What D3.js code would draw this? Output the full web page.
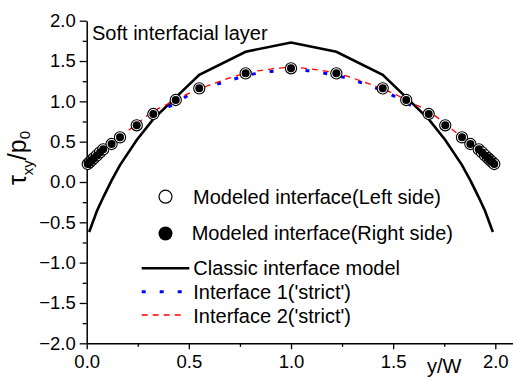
<!DOCTYPE html>
<html>
<head>
<meta charset="utf-8">
<script src="https://cdn.jsdelivr.net/npm/d3@7"></script>
<style>
  html, body { margin: 0; padding: 0; background: #fff; }
  svg { display: block; }
  text { font-family: "Liberation Sans", Arial, sans-serif; fill: #000; }
</style>
</head>
<body>
<svg id="chart" width="513" height="381"></svg>
<script>
// Sample positions y/W of the modeled interface points
const modelX = [0.005, 0.015, 0.025, 0.035, 0.05, 0.065, 0.081, 0.122, 0.163, 0.245, 0.326, 0.436, 0.551, 0.778, 1.0,
                1.222, 1.449, 1.564, 1.674, 1.755, 1.837, 1.878, 1.919, 1.935, 1.95, 1.965, 1.975, 1.985, 1.995];
// Modeled interface, left side (open circles)
const modelLeftY = [0.223, 0.247, 0.27, 0.295, 0.33, 0.367, 0.405, 0.471, 0.554, 0.703, 0.843, 1.017, 1.161, 1.347, 1.41,
                    1.347, 1.161, 1.017, 0.843, 0.703, 0.554, 0.471, 0.405, 0.367, 0.33, 0.295, 0.27, 0.247, 0.223];
// Modeled interface, right side (filled circles)
const modelRightY = [0.223, 0.247, 0.27, 0.295, 0.33, 0.367, 0.405, 0.471, 0.554, 0.703, 0.843, 1.017, 1.161, 1.347, 1.41,
                     1.347, 1.161, 1.017, 0.843, 0.703, 0.554, 0.471, 0.405, 0.367, 0.33, 0.295, 0.27, 0.247, 0.223];

// Classic interface model
const classicX = [0.012, 0.05, 0.081, 0.122, 0.163, 0.245, 0.326, 0.436, 0.551, 0.778, 1.0,
                  1.222, 1.449, 1.564, 1.674, 1.755, 1.837, 1.878, 1.919, 1.95, 1.988];
const classicY = [-0.62, -0.36, -0.19, 0.02, 0.21, 0.52, 0.78, 1.05, 1.33, 1.615, 1.73,
                  1.615, 1.33, 1.05, 0.78, 0.52, 0.21, 0.02, -0.19, -0.36, -0.62];

// Interface 1 ('strict')
const strict1X = [0.40, 0.45, 0.50, 0.55, 0.60, 0.70, 0.80, 0.90, 1.00, 1.10, 1.20, 1.30, 1.40, 1.45, 1.50, 1.55, 1.60];
const strict1Y = [0.93, 1.00, 1.08, 1.13, 1.18, 1.26, 1.33, 1.37, 1.39, 1.375, 1.33, 1.27, 1.18, 1.13, 1.07, 1.00, 0.93];

// Interface 2 ('strict')
const strict2X = [0.00, 0.05, 0.10, 0.15, 0.20, 0.25, 0.30, 0.35, 0.40, 0.50, 0.60, 0.70, 0.80, 0.90, 1.00,
                  1.10, 1.20, 1.30, 1.40, 1.50, 1.60, 1.65, 1.70, 1.75, 1.80, 1.85, 1.90, 1.95, 2.00];
const strict2Y = [0.20, 0.32, 0.43, 0.53, 0.63, 0.73, 0.83, 0.91, 0.97, 1.10, 1.20, 1.29, 1.36, 1.40, 1.42,
                  1.40, 1.36, 1.29, 1.20, 1.10, 0.97, 0.91, 0.83, 0.73, 0.63, 0.53, 0.43, 0.32, 0.20];

// Axis ticks
const xMajorTicks = [0, 0.5, 1.0, 1.5, 2.0];
const xMinorTicks = [0.25, 0.75, 1.25, 1.75];
const yMajorTicks = [-2.0, -1.5, -1.0, -0.5, 0.0, 0.5, 1.0, 1.5, 2.0];
const yMinorTicks = [-1.75, -1.25, -0.75, -0.25, 0.25, 0.75, 1.25, 1.75];

const legendLabels = ["Modeled interface(Left side)", "Modeled interface(Right side)",
                      "Classic interface model", "Interface 1('strict')", "Interface 2('strict')"];

const svg = d3.select("#chart");

const x = d3.scaleLinear().domain([0, 2.1]).range([86.7, 86.7 + 2.1 * 204.3]);
const y = d3.scaleLinear().domain([-2, 2]).range([343.3, 20.7]);

const fmt = d3.format(".1f");

// Minor ticks first
svg.append("g")
  .attr("transform", `translate(0,${y(-2)})`)
  .call(d3.axisBottom(x).tickValues(xMinorTicks).tickSize(3.5).tickSizeOuter(0).tickFormat(""))
  .call(g => g.select(".domain").remove())
  .call(g => g.selectAll("line").attr("stroke", "#000").attr("stroke-width", 1.3));

svg.append("g")
  .attr("transform", `translate(${x(0)},0)`)
  .call(d3.axisLeft(y).tickValues(yMinorTicks).tickSize(4).tickSizeOuter(0).tickFormat(""))
  .call(g => g.select(".domain").remove())
  .call(g => g.selectAll("line").attr("stroke", "#000").attr("stroke-width", 1.3));

// Major axes
const xAxis = svg.append("g")
  .attr("transform", `translate(0,${y(-2)})`)
  .call(d3.axisBottom(x).tickValues(xMajorTicks).tickSize(6).tickSizeOuter(0).tickPadding(6).tickFormat(fmt));
xAxis.select(".domain").attr("stroke", "#000").attr("stroke-width", 1.5);
xAxis.selectAll("line").attr("stroke", "#000").attr("stroke-width", 1.3);
xAxis.selectAll("text").attr("font-size", 18.5).attr("font-family", '"Liberation Sans", Arial, sans-serif').attr("fill", "#000");

const yAxis = svg.append("g")
  .attr("transform", `translate(${x(0)},0)`)
  .call(d3.axisLeft(y).tickValues(yMajorTicks).tickSize(7).tickSizeOuter(0).tickPadding(4).tickFormat(fmt));
yAxis.select(".domain").attr("stroke", "#000").attr("stroke-width", 1.5);
yAxis.selectAll("line").attr("stroke", "#000").attr("stroke-width", 1.3);
yAxis.selectAll("text").attr("font-size", 18.5).attr("font-family", '"Liberation Sans", Arial, sans-serif').attr("fill", "#000");

// Axis titles
svg.append("text")
  .attr("x", 427).attr("y", 373)
  .attr("font-size", 20)
  .text("y/W");

const yTitle = svg.append("text")
  .attr("transform", "translate(26,158) rotate(-90)")
  .attr("text-anchor", "middle")
  .attr("font-size", 25);
yTitle.append("tspan").text("τ");
yTitle.append("tspan").attr("font-size", 15).attr("dy", 7).text("xy");
yTitle.append("tspan").attr("dy", -7).text("/p");
yTitle.append("tspan").attr("font-size", 15).attr("dy", 4).text("0");

svg.append("text")
  .attr("x", 92).attr("y", 40)
  .attr("font-size", 20)
  .text("Soft interfacial layer");

// Curves
const line = d3.line().x(d => x(d[0])).y(d => y(d[1]));
const smooth = d3.line().x(d => x(d[0])).y(d => y(d[1])).curve(d3.curveMonotoneX);

svg.append("path")
  .datum(d3.zip(classicX, classicY))
  .attr("d", line)
  .attr("fill", "none").attr("stroke", "#000").attr("stroke-width", 2.6)
  .attr("stroke-linejoin", "miter");

svg.append("path")
  .datum(d3.zip(strict1X, strict1Y))
  .attr("d", smooth)
  .attr("fill", "none").attr("stroke", "#0000ff").attr("stroke-width", 3)
  .attr("stroke-dasharray", "4 14");

svg.append("path")
  .datum(d3.zip(strict2X, strict2Y))
  .attr("d", smooth)
  .attr("fill", "none").attr("stroke", "#ff0000").attr("stroke-width", 1.3)
  .attr("stroke-dasharray", "6 5");

// Markers
svg.append("g").selectAll("circle")
  .data(d3.zip(modelX, modelLeftY))
  .join("circle")
  .attr("cx", d => x(d[0])).attr("cy", d => y(d[1]))
  .attr("r", 5.6)
  .attr("fill", "#fff").attr("stroke", "#000").attr("stroke-width", 1.1);

svg.append("g").selectAll("circle")
  .data(d3.zip(modelX, modelRightY))
  .join("circle")
  .attr("cx", d => x(d[0])).attr("cy", d => y(d[1]))
  .attr("r", 4)
  .attr("fill", "#000");

// Legend
const lg = svg.append("g");
lg.append("circle").attr("cx", 165.5).attr("cy", 196.7).attr("r", 6.5)
  .attr("fill", "#fff").attr("stroke", "#000").attr("stroke-width", 1.2);
lg.append("text").attr("x", 193).attr("y", 203.5).attr("font-size", 20).text(legendLabels[0]);

lg.append("circle").attr("cx", 165.5).attr("cy", 233.5).attr("r", 7).attr("fill", "#000");
lg.append("text").attr("x", 191.7).attr("y", 240).attr("font-size", 20).text(legendLabels[1]);

lg.append("line").attr("x1", 141.7).attr("x2", 189.3).attr("y1", 268.3).attr("y2", 268.3)
  .attr("stroke", "#000").attr("stroke-width", 2.6);
lg.append("text").attr("x", 193.3).attr("y", 274.5).attr("font-size", 20).text(legendLabels[2]);

lg.append("line").attr("x1", 141.7).attr("x2", 183).attr("y1", 291.7).attr("y2", 291.7)
  .attr("stroke", "#0000ff").attr("stroke-width", 3).attr("stroke-dasharray", "4 14");
lg.append("text").attr("x", 193.3).attr("y", 298.5).attr("font-size", 20).text(legendLabels[3]);

lg.append("line").attr("x1", 141.7).attr("x2", 181.7).attr("y1", 315).attr("y2", 315)
  .attr("stroke", "#ff0000").attr("stroke-width", 1.3).attr("stroke-dasharray", "6 5");
lg.append("text").attr("x", 193.3).attr("y", 322.7).attr("font-size", 20).text(legendLabels[4]);
</script>
</body>
</html>
